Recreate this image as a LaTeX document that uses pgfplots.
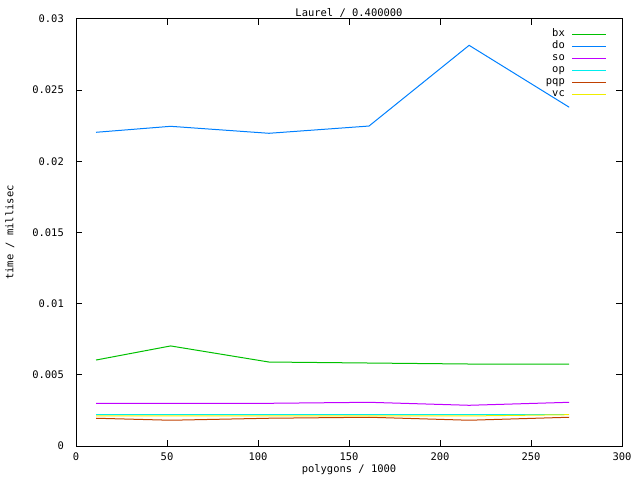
\documentclass[border=0pt]{standalone}
\usepackage{fontspec}
\setmainfont{DejaVu Sans Mono}
\usepackage{pgfplots}
\pgfplotsset{compat=1.18}
\definecolor{cbx}{RGB}{0,192,0}
\definecolor{cdo}{RGB}{0,128,255}
\definecolor{cso}{RGB}{192,0,255}
\definecolor{cop}{RGB}{0,238,238}
\definecolor{cpqp}{RGB}{192,64,0}
\definecolor{cvc}{RGB}{238,238,0}
\begin{document}
\begin{tikzpicture}[font=\fontsize{10.5}{12}\selectfont]
\useasboundingbox (0,0) rectangle (640bp,480bp);
\begin{axis}[
  at={(76bp,34bp)}, anchor=south west,
  scale only axis, width=546bp, height=427bp,
  xmin=0, xmax=300, ymin=0, ymax=0.03,
  xtick={0,50,100,150,200,250,300},
  xticklabels={0,50,100,150,200,250,300},
  ytick={0,0.005,0.01,0.015,0.02,0.025,0.03},
  yticklabels={0,0.005,0.01,0.015,0.02,0.025,0.03},
  scaled y ticks=false,
  tick align=inside, major tick length=6bp,
  axis line style={line width=1bp, black},
  tick style={line width=1bp, black},
  xticklabel style={inner sep=0pt, anchor=north, yshift=-7bp},
  yticklabel style={inner sep=0pt, anchor=east, xshift=-12bp},
  title={Laurel / 0.400000},
  every axis title shift=0pt,
  title style={at={(axis description cs:0.5,1.014)}, anchor=center, inner sep=0pt},
  xlabel={polygons / 1000},
  xlabel style={at={(axis description cs:0.5,-0.0562)}, anchor=center, inner sep=0pt},
  ylabel={time / millisec},
  ylabel style={at={(axis description cs:-0.121,0.5)}, anchor=center, inner sep=0pt},
  legend cell align=right,
  legend plot pos=right,
  legend image code/.code={\draw[#1, line width=1bp] (0bp,0bp) -- (34bp,0bp);},
  legend style={draw=none, fill=none, at={(axis description cs:1,1)}, anchor=north east,
    xshift=-15bp, yshift=-9bp, inner sep=0pt, row sep=0pt, column sep=7bp,
    nodes={inner sep=0pt, text height=8bp, text depth=4bp}},
  every axis plot/.append style={line width=1bp, no markers},
]
\addplot[cbx] coordinates {(11,0.00604) (52,0.00703) (106,0.00590) (161,0.00583) (216,0.00576) (271,0.00576)};
\addlegendentry{bx}
\addplot[cdo] coordinates {(11,0.02204) (52,0.02246) (106,0.02197) (161,0.02248) (216,0.02815) (271,0.02380)};
\addlegendentry{do}
\addplot[cso] coordinates {(11,0.00300) (52,0.00300) (106,0.00300) (161,0.00307) (216,0.00286) (271,0.00307)};
\addlegendentry{so}
\addplot[cop] coordinates {(11,0.00218) (52,0.00218) (106,0.00218) (161,0.00218) (216,0.00218) (271,0.00218)};
\addlegendentry{op}
\addplot[cpqp] coordinates {(11,0.00195) (52,0.00181) (106,0.00195) (161,0.00202) (216,0.00181) (271,0.00202)};
\addlegendentry{pqp}
\addplot[cvc] coordinates {(11,0.00211) (52,0.00211) (106,0.00211) (161,0.00211) (216,0.00211) (271,0.00220)};
\addlegendentry{vc}
\end{axis}
\end{tikzpicture}
\end{document}
